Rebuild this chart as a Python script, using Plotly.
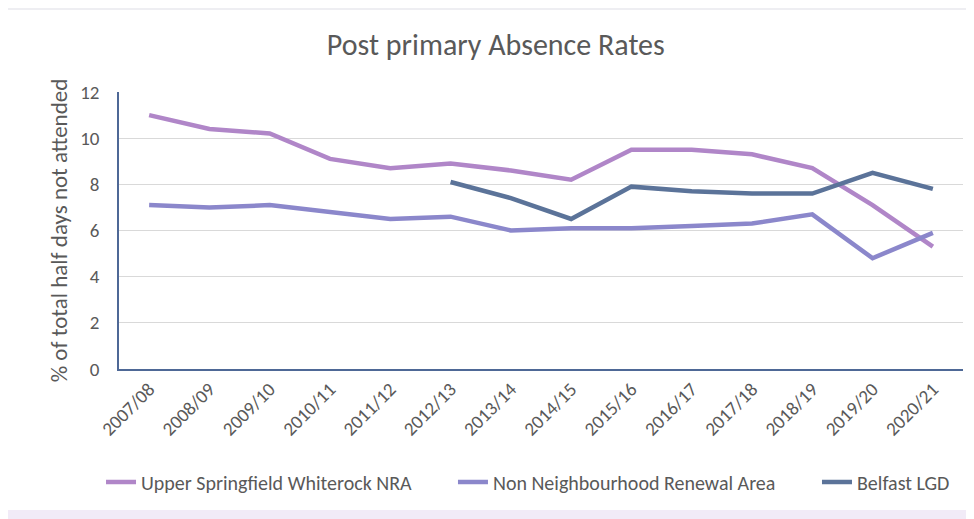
import plotly.graph_objects as go

years = ["2007/08", "2008/09", "2009/10", "2010/11", "2011/12", "2012/13", "2013/14",
         "2014/15", "2015/16", "2016/17", "2017/18", "2018/19", "2019/20", "2020/21"]
upper_springfield = [11.0, 10.4, 10.2, 9.1, 8.7, 8.9, 8.6, 8.2, 9.5, 9.5, 9.3, 8.7, 7.1, 5.3]
non_nra = [7.1, 7.0, 7.1, 6.8, 6.5, 6.6, 6.0, 6.1, 6.1, 6.2, 6.3, 6.7, 4.8, 5.9]
belfast_lgd = [None, None, None, None, None, 8.1, 7.4, 6.5, 7.9, 7.7, 7.6, 7.6, 8.5, 7.8]

FONT = "Carlito, Lato, sans-serif"
TXT = "#595959"

fig = go.Figure()
fig.add_trace(go.Scatter(x=years, y=upper_springfield, mode="lines",
                         name="Upper Springfield Whiterock NRA", legend="legend",
                         line=dict(color="#B086C8", width=4.5)))
fig.add_trace(go.Scatter(x=years, y=non_nra, mode="lines",
                         name="Non Neighbourhood Renewal Area", legend="legend2",
                         line=dict(color="#8B87CB", width=4.5)))
fig.add_trace(go.Scatter(x=years, y=belfast_lgd, mode="lines",
                         name="Belfast LGD", legend="legend3",
                         line=dict(color="#5B7399", width=4.5)))

leg_common = dict(orientation="h", xanchor="left", y=-0.408, yanchor="middle",
                  font=dict(size=20, color=TXT), bgcolor="rgba(0,0,0,0)")

fig.update_layout(
    width=966, height=511,
    paper_bgcolor="white", plot_bgcolor="white",
    margin=dict(l=111, r=11, t=84, b=150),
    font=dict(family=FONT, color=TXT, size=19),
    title=dict(text="Post primary Absence Rates", x=0.505, xanchor="center",
               y=0.9276, yanchor="middle", font=dict(size=30, color=TXT, family=FONT)),
    showlegend=True,
    legend=dict(x=-0.0213, **leg_common),
    legend2=dict(x=0.3957, **leg_common),
    legend3=dict(x=0.827, **leg_common),
    shapes=[
        dict(type="rect", xref="paper", yref="paper", x0=-0.1315, x1=1.013, y0=-0.509, y1=-0.5415,
             line=dict(width=0), fillcolor="#F1EBF7", layer="below"),
        dict(type="line", xref="paper", yref="paper", x0=-0.1315, x1=1.013, y0=1.30, y1=1.30,
             line=dict(color="#EEEEF2", width=2), layer="below"),
    ],
)
fig.update_xaxes(type="category", tickangle=-45, tickfont=dict(size=19, color=TXT),
                 showgrid=False, showline=True, linecolor="#4E6896", linewidth=1.5,
                 ticks="", range=[-0.5, 13.5])
fig.update_yaxes(range=[0, 12], dtick=2, showgrid=True, gridcolor="#D9D9D9", gridwidth=1,
                 showline=True, linecolor="#4E6896", linewidth=1.5, zeroline=False,
                 tickfont=dict(size=19, color=TXT), ticks="outside", ticklen=14,
                 tickcolor="rgba(0,0,0,0)",
                 title=dict(text="% of total half days not attended",
                            font=dict(size=23, color=TXT), standoff=6))

fig.write_html("out.html")
